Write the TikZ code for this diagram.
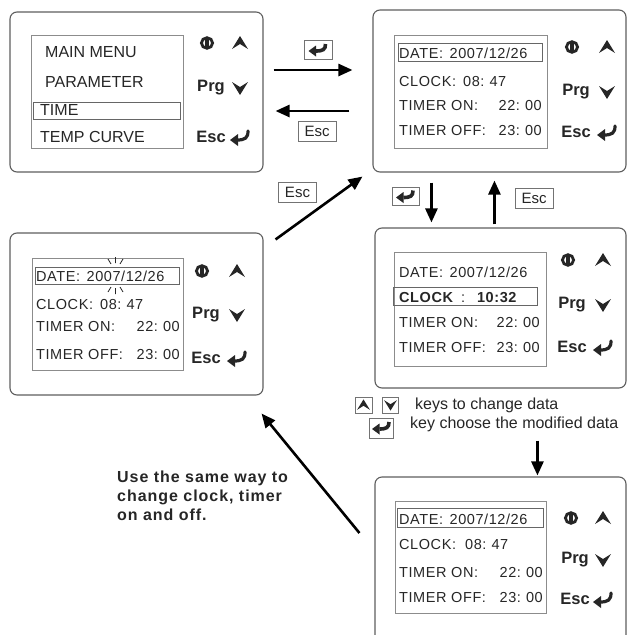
\documentclass[tikz,border=0pt]{standalone}
\usepackage{fontspec}
\setmainfont{Liberation Sans}
\newfontfamily\lcdfont[LetterSpace=4]{Liberation Sans}
\newfontfamily\notefont[LetterSpace=6]{Liberation Sans}
\usetikzlibrary{arrows.meta,calc}

\definecolor{ink}{HTML}{262626}
\definecolor{frame}{HTML}{5E5E5E}
\definecolor{lcdline}{HTML}{8C8C8C}

\tikzset{
  panel/.style={draw=frame, line width=1.1pt, rounded corners=7pt, inner sep=0pt},
  lcd/.style={draw=lcdline, line width=0.7pt, inner sep=0pt},
  hilite/.style={draw=black!60, line width=0.8pt, inner sep=0pt},
  menutxt/.style={inner sep=0pt, anchor=mid west, yshift=-1.5pt, text=ink,
    font=\fontsize{16}{18}\selectfont},
  lcdtxt/.style={inner sep=0pt, anchor=mid west, yshift=-1.4pt, text=ink,
    font=\lcdfont\fontsize{14.5}{16}\selectfont},
  keylbl/.style={inner sep=0pt, text=ink, font=\bfseries\fontsize{16.5}{18}\selectfont},
  legtxt/.style={inner sep=0pt, anchor=mid west, yshift=-1.5pt, text=ink,
    font=\fontsize{16}{18}\selectfont},
  notetxt/.style={inner sep=0pt, align=left, text=ink,
    font=\notefont\bfseries\fontsize{16}{19}\selectfont},
  flow/.style={line width=2.6pt, -{Triangle[length=14pt,width=12pt]}},
  keybox/.style={draw=black!55, line width=0.8pt, inner sep=0pt, fill=white},
  esckey/.style={keybox, minimum width=38pt, minimum height=20pt,
    font=\fontsize{15}{16}\selectfont, text=ink},
  pwrkey/.pic={
    \draw[ink, line width=2.8pt] (0,0) circle[x radius=5.6pt, y radius=5.3pt];
    \fill[ink] (-1.7,-5.5) rectangle (1.7,5.5);
  },
  upkey/.pic={\fill[ink] (0,-7) -- (8,6) -- (0,1) -- (-8,6) -- cycle;},
  dnkey/.pic={\fill[ink] (0,7) -- (8,-6) -- (0,-1) -- (-8,-6) -- cycle;},
  retkey/.pic={
    \draw[ink, line width=3.2pt, line cap=round]
      (8,-6) .. controls (8,1) and (5,3) .. (-3,3);
    \fill[ink] (-10,3) -- (-2,-3) -- (-2,9) -- cycle;
  },
  entkey/.pic={
    \draw[ink, line width=3.6pt]
      (7.5,-5) .. controls (7.5,0.5) and (5,2) .. (-2,2);
    \fill[ink] (-9.5,2) -- (-2,-3.5) -- (-2,7.5) -- cycle;
  },
}

% the three rows shared by every date/time screen
\newcommand{\lcdrows}[6]{%
  \node[lcdtxt] (#1-date) at (#2,#3) {DATE:\hspace{0.45em}2007/12/26};
  \node[lcdtxt] (#1-on) at (#2,#4) {TIMER ON:};
  \node[lcdtxt, anchor=mid east] (#1-onv) at (#6,#4) {22:\hspace{0.35em}00};
  \node[lcdtxt] (#1-off) at (#2,#5) {TIMER OFF:};
  \node[lcdtxt, anchor=mid east] (#1-offv) at (#6,#5) {23:\hspace{0.35em}00};
}

% key column on the right of each controller face
\newcommand{\lcdkeys}[6]{%
  \pic (#1-pwr) at (#2,#4) {pwrkey};
  \pic (#1-up) at (#3,#4) {upkey};
  \node[keylbl] (#1-prg) at (#2+4,#5) {Prg};
  \pic (#1-dn) at (#3,#5) {dnkey};
  \node[keylbl] (#1-esc) at (#2+4,#6) {Esc};
  \pic (#1-ret) at (#3,#6) {retkey};
}

\begin{document}
\begin{tikzpicture}[x=1pt,y=-1pt]
\useasboundingbox (0,0) rectangle (630,635);
\clip (0,0) rectangle (630,635);

% controller faces
\node[panel, minimum width=253pt, minimum height=160pt] (p1) at (136.5,92) {};
\node[panel, minimum width=253pt, minimum height=162pt] (p2) at (499.5,91) {};
\node[panel, minimum width=253pt, minimum height=162pt] (p3) at (136.5,314) {};
\node[panel, minimum width=251pt, minimum height=160pt] (p4) at (500.5,308) {};
\node[panel, minimum width=251pt, minimum height=165pt] (p5) at (500.5,559.5) {};

% LCD windows
\node[lcd, minimum width=152pt, minimum height=113pt] (s1) at (107,91.5) {};
\node[lcd, minimum width=153pt, minimum height=113pt] (s2) at (470.5,91.5) {};
\node[lcd, minimum width=151pt, minimum height=112pt] (s3) at (107.5,314) {};
\node[lcd, minimum width=152pt, minimum height=114pt] (s4) at (470,309) {};
\node[lcd, minimum width=151pt, minimum height=112pt] (s5) at (470.5,557) {};

% cursor frames
\node[hilite, minimum width=147pt, minimum height=17pt] (h1) at (106.5,110.5) {};
\node[hilite, minimum width=144pt, minimum height=18pt] (h2) at (470,52) {};
\node[hilite, minimum width=144pt, minimum height=17pt] (h3) at (107,275.5) {};
\node[hilite, minimum width=144pt, minimum height=18pt] (h4) at (465,296) {};
\node[hilite, minimum width=146pt, minimum height=19pt] (h5) at (470,517.5) {};

% main menu
\node[menutxt] (m1) at (45,53) {MAIN MENU};
\node[menutxt] (m2) at (45,83) {PARAMETER};
\node[menutxt] (m3) at (40,111) {TIME};
\node[menutxt] (m4) at (40,138) {TEMP CURVE};

% time screens
\lcdrows{p2}{399}{54}{106}{131}{542}
\node[lcdtxt] (p2-clk) at (399,82) {CLOCK:};
\node[lcdtxt] (p2-clkv) at (463,82) {08:\hspace{0.35em}47};

\lcdrows{p3}{36}{277}{327}{355}{180}
\node[lcdtxt] (p3-clk) at (36,305) {CLOCK:};
\node[lcdtxt] (p3-clkv) at (100,305) {08:\hspace{0.35em}47};

\lcdrows{p4}{399}{273}{323}{348}{540}
\node[lcdtxt] (p4-clk) at (399,298)
  {{\bfseries CLOCK}\hspace{8pt}:\hspace{12pt}{\bfseries 10:32}};

\lcdrows{p5}{399}{520}{573}{598}{543}
\node[lcdtxt] (p5-clk) at (399,545) {CLOCK:};
\node[lcdtxt] (p5-clkv) at (465,545) {08:\hspace{0.35em}47};

% blinking digit marks
\draw[ink, line width=0.8pt] (108,259) -- (111,264) (115.5,257) -- (115.5,263) (123,259) -- (120,264);
\draw[ink, line width=0.8pt] (111,287) -- (108,292) (115.5,288) -- (115.5,294) (120,287) -- (123,292);

% keys
\lcdkeys{p1}{207}{240}{43}{88}{137}
\lcdkeys{p2}{572}{607}{47}{92}{132}
\lcdkeys{p3}{202}{237}{271}{315}{358}
\lcdkeys{p4}{568}{603}{260}{305}{347}
\lcdkeys{p5}{571}{603}{518}{560}{599}

% transitions
\draw[flow] ($(p1.east)+(10,-22)$) -- ($(p2.west)+(-20,-21)$);
\draw[flow] ($(p2.west)+(-23,20)$) -- ($(p1.east)+(12,19)$);
\draw[flow] ($(p3.north east)+(12,7)$) -- ($(p2.south west)+(-10,4)$);
\draw[flow] ($(p2.south west)+(59,10)$) -- ($(p4.north west)+(57,-5)$);
\draw[flow] ($(p4.north west)+(120,-3)$) -- ($(p2.south west)+(122,8)$);
\draw[flow] ($(p4.south west)+(163,52)$) -- ($(p5.north west)+(163,-1)$);
\draw[flow] ($(p5.west)+(-15,-26.5)$) -- ($(p3.south east)+(-2,18)$);

% key labels on the transitions
\node[keybox, minimum width=28pt, minimum height=19pt] (k1) at (318,50) {};
\pic (k1-icon) at ($(k1)+(0,-1)$) {entkey};
\node[esckey] (k2) at (317,131) {Esc};
\node[esckey] (k3) at (297.5,192) {Esc};
\node[keybox, minimum width=27pt, minimum height=18pt] (k4) at (405.5,196.5) {};
\pic (k4-icon) at ($(k4)+(0,-1)$) {entkey};
\node[esckey] (k5) at (534,198) {Esc};

% legend
\node[keybox, minimum width=17pt, minimum height=16pt] (k6) at (363.5,405) {};
\pic[scale=0.8] (k6-icon) at (k6) {upkey};
\node[keybox, minimum width=16pt, minimum height=16pt] (k7) at (390.5,405) {};
\pic[scale=0.8] (k7-icon) at (k7) {dnkey};
\node[legtxt] (l1) at (415,405) {keys to change data};
\node[keybox, minimum width=24pt, minimum height=20pt] (k8) at (381.5,428) {};
\pic (k8-icon) at ($(k8)+(0,-1)$) {entkey};
\node[legtxt] (l2) at (410,424) {key choose the modified data};

% note
\node[notetxt, anchor=north west] (note) at (117,471)
  {Use the same way to\\change clock, timer\\on and off.};
\end{tikzpicture}
\end{document}
